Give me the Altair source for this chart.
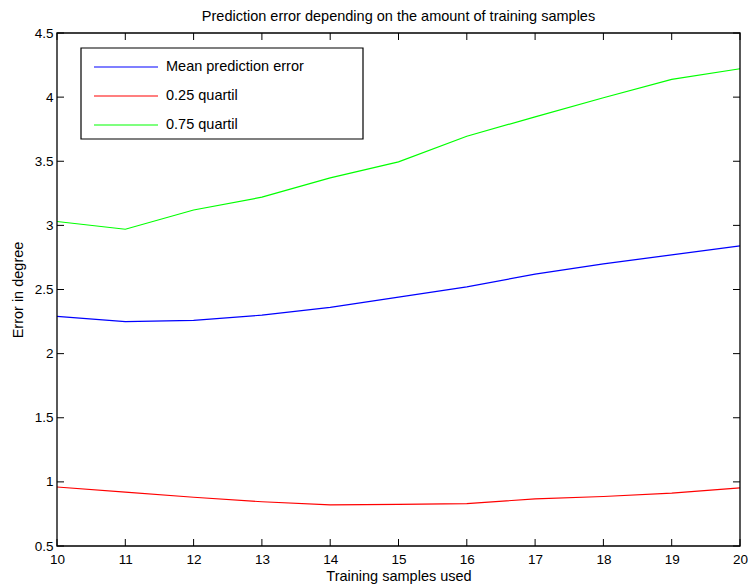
import altair as alt
import pandas as pd

# ---- data ----
samples = [10, 11, 12, 13, 14, 15, 16, 17, 18, 19, 20]
mean_err = [2.29, 2.25, 2.26, 2.30, 2.36, 2.44, 2.52, 2.62, 2.70, 2.77, 2.84]
q25 = [0.96, 0.92, 0.88, 0.845, 0.82, 0.825, 0.83, 0.868, 0.886, 0.912, 0.953]
q75 = [3.03, 2.97, 3.12, 3.22, 3.37, 3.495, 3.695, 3.846, 3.995, 4.138, 4.221]
series_names = ["Mean prediction error", "0.25 quartil", "0.75 quartil"]
series_colors = ["#0000ff", "#ff0000", "#00ff00"]
x_ticks = [10, 11, 12, 13, 14, 15, 16, 17, 18, 19, 20]
y_ticks = [0.5, 1, 1.5, 2, 2.5, 3, 3.5, 4, 4.5]

rows = []
for name, vals in zip(series_names, [mean_err, q25, q75]):
    for s, v in zip(samples, vals):
        rows.append({"samples": s, "error": v, "series": name})
df = pd.DataFrame(rows)

W, H = 683, 513
FONT = "Liberation Sans"
TICK = 7

xscale = alt.Scale(domain=[10, 20], nice=False, zero=False)
yscale = alt.Scale(domain=[0.5, 4.5], nice=False, zero=False)

xaxis = alt.Axis(values=x_ticks, title="Training samples used", labelFlush=False,
                 labelPadding=6, titlePadding=4, format="d")
yaxis = alt.Axis(values=y_ticks, title="Error in degree", labelFlush=False,
                 labelPadding=4, titlePadding=9, format=".1~f")

one = pd.DataFrame({"k": [0]})

# legend frame (decoration) and plot frame
legend_box = alt.Chart(one).mark_rect(fill="white", stroke="black", strokeWidth=1.2).encode(
    x=alt.value(24), x2=alt.value(306), y=alt.value(15), y2=alt.value(106))
frame = alt.Chart(one).mark_rect(fill=None, stroke="black", strokeWidth=1.3).encode(
    x=alt.value(0), x2=alt.value(W), y=alt.value(0), y2=alt.value(H))

lines = alt.Chart(df).mark_line(strokeWidth=1.2).encode(
    x=alt.X("samples:Q", scale=xscale, axis=xaxis),
    y=alt.Y("error:Q", scale=yscale, axis=yaxis),
    color=alt.Color("series:N",
                    scale=alt.Scale(domain=series_names, range=series_colors),
                    sort=series_names,
                    legend=alt.Legend(
                        title=None, orient="none", legendX=24, legendY=15,
                        symbolType="stroke", symbolSize=4096, symbolStrokeWidth=1.2,
                        clipHeight=14, rowPadding=14, padding=12, labelOffset=7,
                        labelFont=FONT, labelFontSize=14.5, labelColor="black",
                        labelLimit=500)),
)

xt = pd.DataFrame({"samples": x_ticks})
yt = pd.DataFrame({"error": y_ticks})

xtick_bottom = alt.Chart(xt).mark_rule(color="black", strokeWidth=1).encode(
    x=alt.X("samples:Q", scale=xscale, axis=xaxis), y=alt.value(H), y2=alt.value(H - TICK))
xtick_top = alt.Chart(xt).mark_rule(color="black", strokeWidth=1).encode(
    x=alt.X("samples:Q", scale=xscale, axis=xaxis), y=alt.value(0), y2=alt.value(TICK))
ytick_left = alt.Chart(yt).mark_rule(color="black", strokeWidth=1).encode(
    y=alt.Y("error:Q", scale=yscale, axis=yaxis), x=alt.value(0), x2=alt.value(TICK))
ytick_right = alt.Chart(yt).mark_rule(color="black", strokeWidth=1).encode(
    y=alt.Y("error:Q", scale=yscale, axis=yaxis), x=alt.value(W), x2=alt.value(W - TICK))

chart = alt.layer(legend_box, lines, xtick_bottom, xtick_top, ytick_left, ytick_right,
                  frame).properties(
    width=W, height=H,
    background="white",
    title=alt.Title("Prediction error depending on the amount of training samples",
                    font=FONT, fontSize=14.5, fontWeight="normal", color="black",
                    anchor="middle", offset=2),
    padding={"left": 57, "top": 33, "right": 8, "bottom": 39},
    autosize=alt.AutoSizeParams(type="none"),
).configure_view(
    stroke=None
).configure_axis(
    domain=False, ticks=False, grid=False,
    labelFont=FONT, labelFontSize=13.5, labelColor="black",
    titleFont=FONT, titleFontSize=14.5, titleFontWeight="normal", titleColor="black",
)

chart.save("out.html", embed_options={"renderer": "svg", "actions": False})
